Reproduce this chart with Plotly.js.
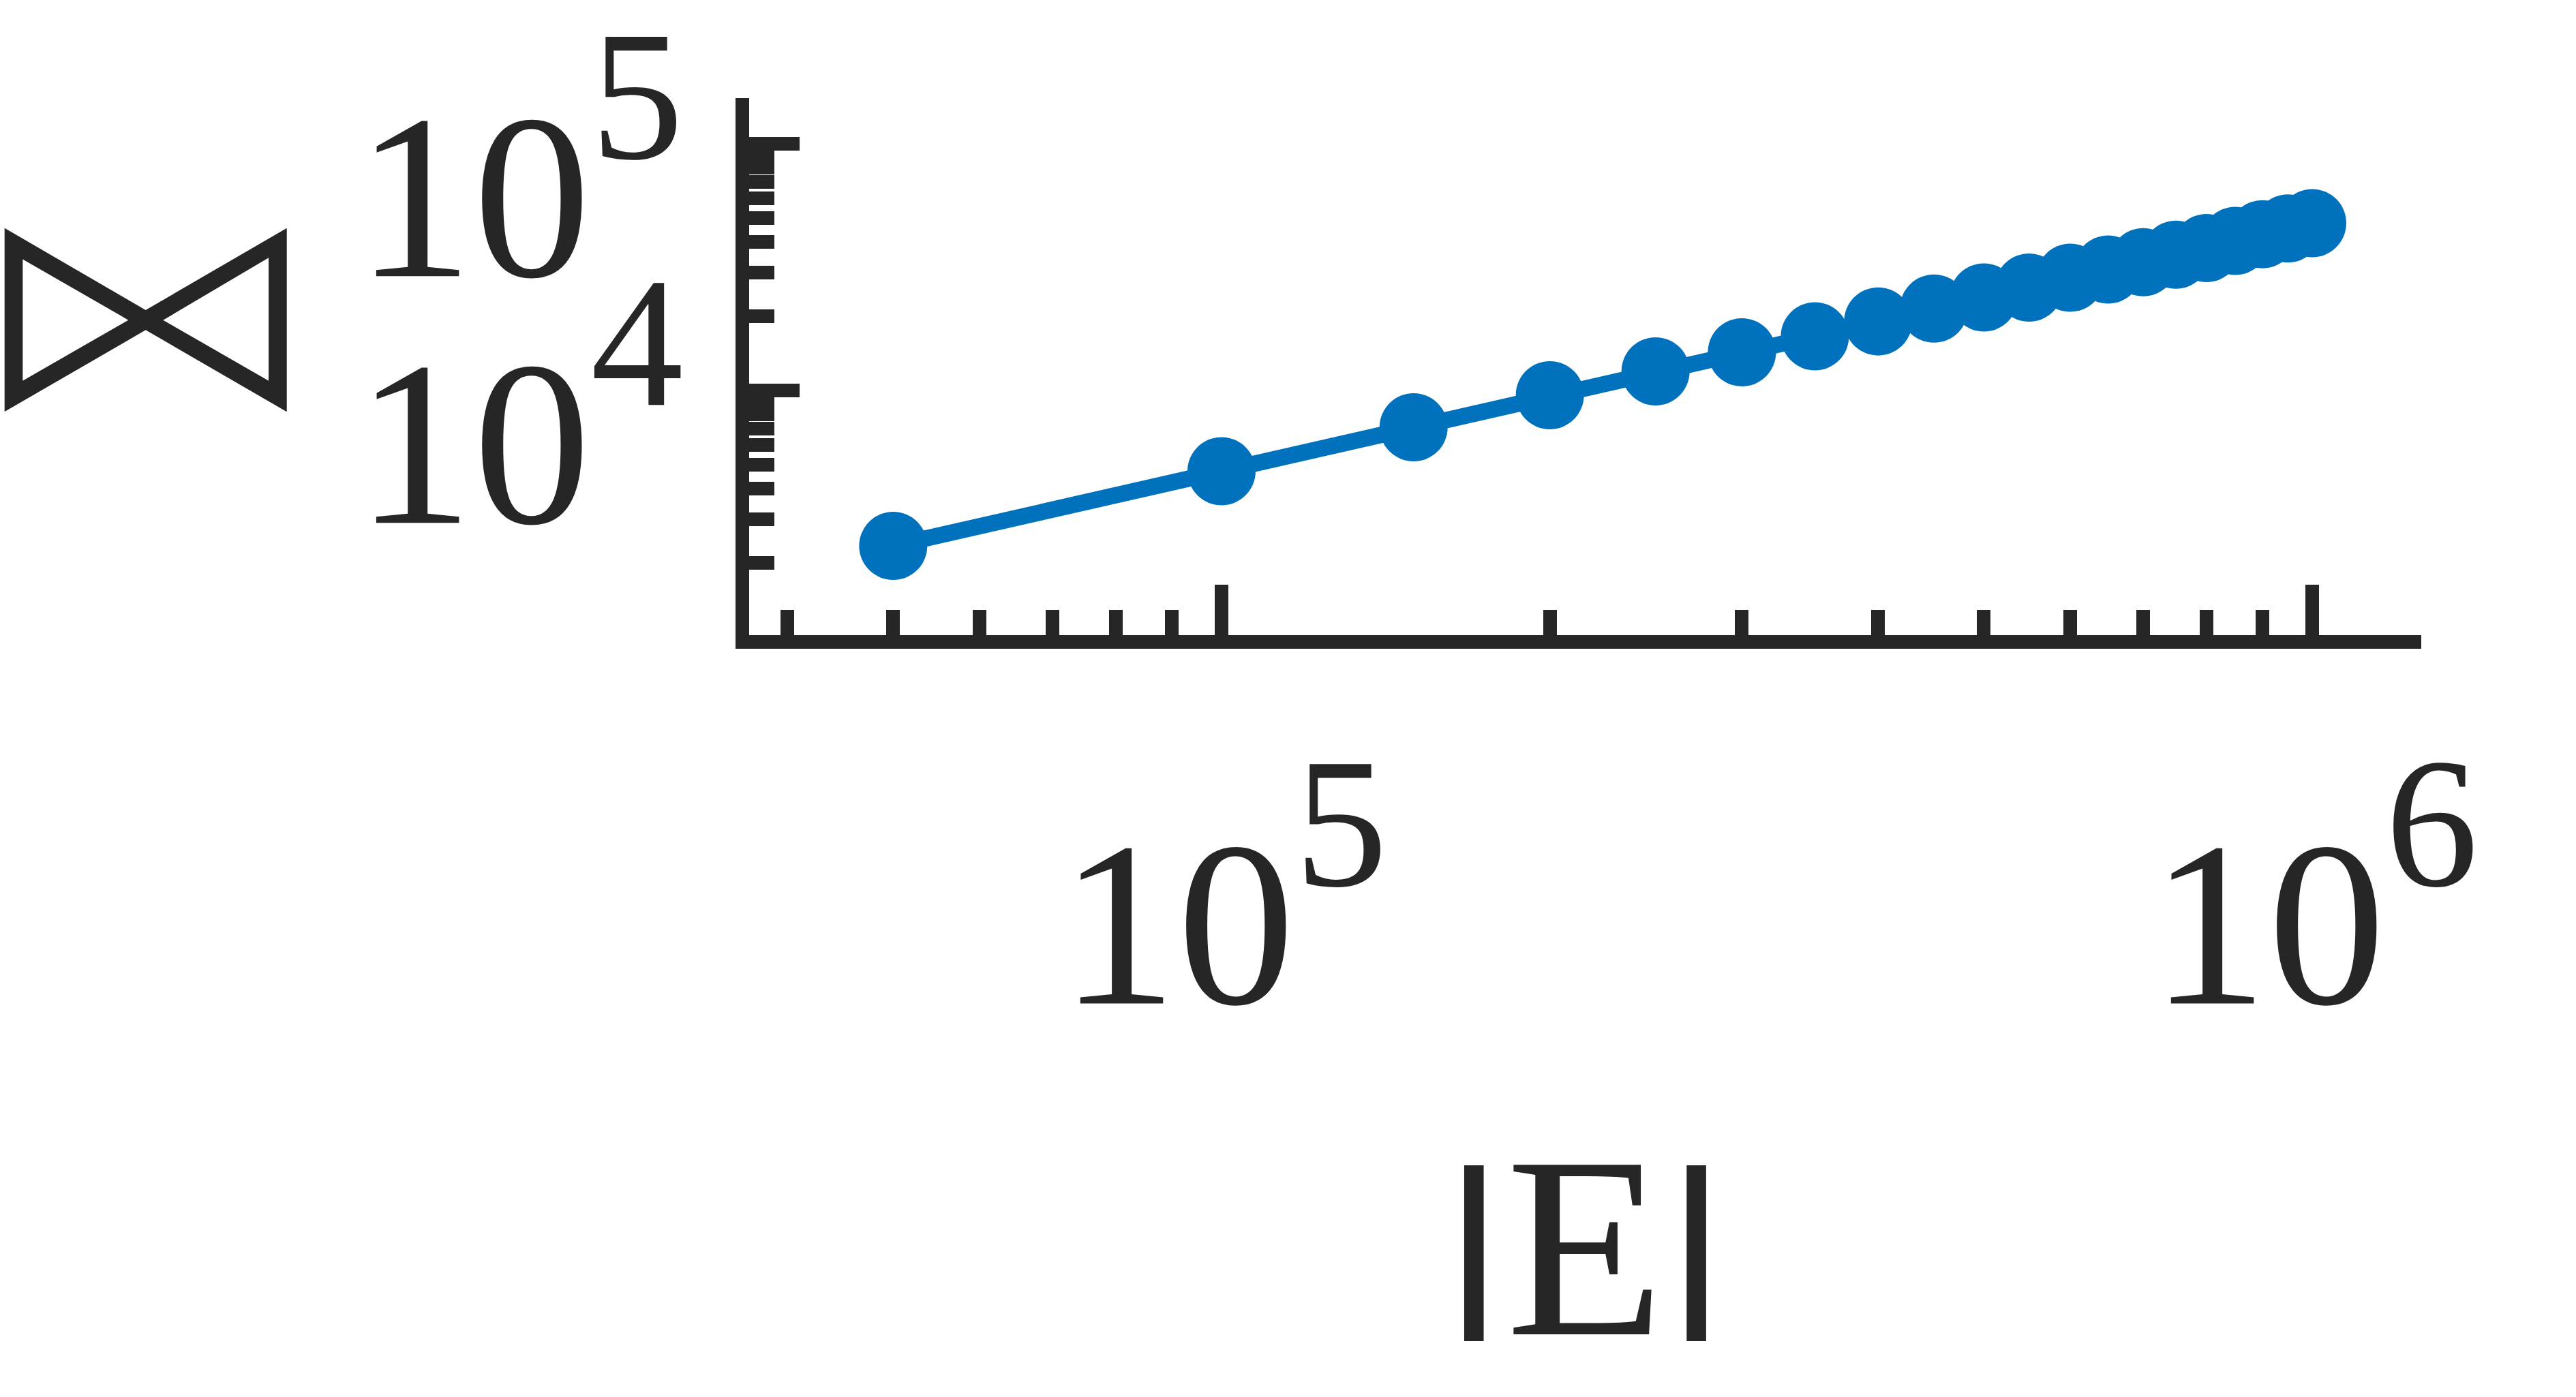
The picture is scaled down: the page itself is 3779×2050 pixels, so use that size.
<!DOCTYPE html>
<html>
<head>
<meta charset="utf-8">
<script src="https://cdn.plot.ly/plotly-3.0.1.min.js"></script>
<style>html,body{margin:0;padding:0;background:#fff}
.annotation-text{transform-box:fill-box;transform-origin:center;transform:scaleX(1.263);stroke:#fff;stroke-width:15px}</style>
</head>
<body>
<div id="chart" style="width:3779px;height:2050px"></div>
<script>
var edgeCounts = [50000,100000,150000,200000,250000,300000,350000,400000,450000,500000,550000,600000,650000,700000,750000,800000,850000,900000,950000,1000000];
var bowtieCounts = [2345,4706,7092,9565,11950,14280,16580,19050,21480,23830,26130,28640,30930,33110,35520,37790,40400,42960,45360,47670];
var xTickVals = [100000,1000000];
var xTickExp = ['5','6'];
var yTickVals = [10000,100000];
var yTickExp = ['4','5'];
var xMinor = [40000,50000,60000,70000,80000,90000,200000,300000,400000,500000,600000,700000,800000,900000];
var yMinor = [2000,3000,4000,5000,6000,7000,8000,9000,20000,30000,40000,50000,60000,70000,80000,90000];
var yLabel = '\u22C8';
var ink = '#262626', blue = '#0072BD';

function powerLabel(e){
  return '<span style="font-size:345px">10</span><sup><span style="font-size:272px">'+e+'</span></sup>';
}
var bar = '<sup><span style="font-family:DejaVu Sans;font-size:258px"><b>|</b></span></sup>';
var xLabel = bar+'<span style="font-size:380px">E</span>'+bar;

var axisCommon = {
  type:'log', showgrid:false, zeroline:false, showline:true, linecolor:ink, linewidth:20,
  ticks:'inside', ticklen:74, tickwidth:20, tickcolor:ink, tickmode:'array', ticklabeloverflow:'allow',
  tickfont:{family:'Liberation Serif', size:412, color:ink}, automargin:false
};
var minorCommon = {ticks:'inside', ticklen:37, tickwidth:20, tickcolor:ink, showgrid:false, tickmode:'array'};

Plotly.newPlot('chart',[{
  x:edgeCounts, y:bowtieCounts, mode:'lines+markers', type:'scatter',
  line:{color:blue,width:24}, marker:{color:blue,size:100}, cliponaxis:false
}],{
  width:3779, height:2050, showlegend:false,
  paper_bgcolor:'#fff', plot_bgcolor:'#fff',
  margin:{l:1099,r:227,t:144,b:1118,pad:0},
  font:{family:'Liberation Serif',color:ink},
  xaxis:Object.assign({},axisCommon,{range:[4.5669,6.1],tickvals:xTickVals,ticktext:xTickExp.map(powerLabel),
    minor:Object.assign({},minorCommon,{tickvals:xMinor}),
    ticklabelstandoff:26, ticklabelshift:3,
    title:{text:xLabel,font:{family:'Liberation Serif',size:121,color:ink},standoff:336}}),
  yaxis:Object.assign({},axisCommon,{range:[3.0083,5.185],tickvals:yTickVals,ticktext:yTickExp.map(powerLabel),
    minor:Object.assign({},minorCommon,{tickvals:yMinor}),
    ticklabelstandoff:-6, ticklabelshift:50}),
  annotations:[{text:yLabel,xref:'paper',yref:'paper',x:-0.361,y:0.605,xanchor:'center',yanchor:'middle',showarrow:false,
    font:{family:'DejaVu Sans',size:435,color:ink}}]
},{staticPlot:true,displayModeBar:false});
</script>
</body>
</html>
